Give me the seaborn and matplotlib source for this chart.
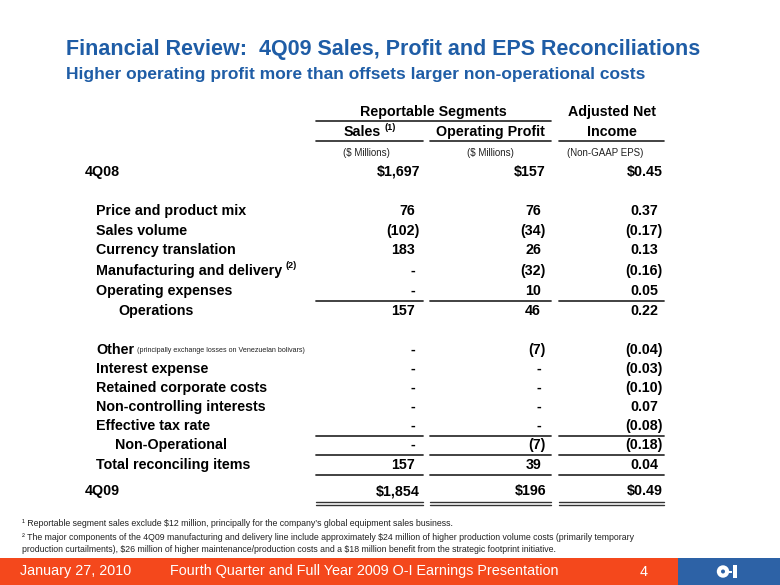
import matplotlib
matplotlib.use("Agg")
import matplotlib.pyplot as plt
from matplotlib.patches import Rectangle, Circle
import seaborn as sns

# ---------------- data ----------------
title = "Financial Review:  4Q09 Sales, Profit and EPS Reconciliations"
subtitle = "Higher operating profit more than offsets larger non-operational costs"

group_header = "Reportable Segments"
eps_header = ["Adjusted Net", "Income"]
col_headers = ["Sales", "Operating Profit", "Income"]
unit_labels = ["($ Millions)", "($ Millions)", "(Non-GAAP EPS)"]

row_labels = ["4Q08", "Price and product mix", "Sales volume", "Currency translation",
              "Manufacturing and delivery", "Operating expenses", "Operations",
              "Other", "Interest expense", "Retained corporate costs",
              "Non-controlling interests", "Effective tax rate", "Non-Operational",
              "Total reconciling items", "4Q09"]
sales = [1697, 76, -102, 183, 0, 0, 157, 0, 0, 0, 0, 0, 0, 157, 1854]
op_profit = [157, 76, -34, 26, -32, 10, 46, -7, 0, 0, 0, 0, -7, 39, 196]
eps = [0.45, 0.37, -0.17, 0.13, -0.16, 0.05, 0.22, -0.04, -0.03, -0.10, 0.07,
       -0.08, -0.18, 0.04, 0.49]
dollar_rows = ["4Q08", "4Q09"]
superscripts = {"Manufacturing and delivery": "(2)"}
other_note = "(principally exchange losses on Venezuelan bolivars)"

footnote1 = "\u00b9 Reportable segment sales exclude $12 million, principally for the company\u2019s global equipment sales business."
footnote2a = "\u00b2 The major components of the 4Q09 manufacturing and delivery line include approximately $24 million of higher production volume costs (primarily temporary"
footnote2b = "production curtailments), $26 million of higher maintenance/production costs and a $18 million benefit from the strategic footprint initiative."
footer_date = "January 27, 2010"
footer_title = "Fourth Quarter and Full Year 2009 O-I Earnings Presentation"
page_no = "4"

# ---------------- layout / style ----------------
BLUE = "#1F5DA6"
ORANGE = "#F4481C"
LOGO_BLUE = "#2D62A6"
row_y = [172, 211, 231, 250, 271, 291, 311, 350, 369, 388, 407, 426, 445, 465, 491]
label_x = {"4Q08": 85, "4Q09": 85, "Operations": 118, "Non-Operational": 115}
col_right = [420, 546, 663]
col_span = [(316, 423), (430, 551), (559, 664)]
paren_pad = 5
FS = 10.3

sns.set_theme(style="white")
plt.rcParams["font.family"] = ["Liberation Sans", "DejaVu Sans"]

fig = plt.figure(figsize=(7.8, 5.85), dpi=100)
ax = fig.add_axes([0, 0, 1, 1])
ax.set_xlim(0, 780)
ax.set_ylim(585, 0)
ax.axis("off")
renderer = fig.canvas.get_renderer()


def txt(x, y, s, **kw):
    kw.setdefault("va", "center")
    kw.setdefault("ha", "left")
    kw.setdefault("color", "black")
    return ax.text(x, y, s, parse_math=False, **kw)


def right_edge(t):
    bb = t.get_window_extent(renderer=renderer)
    return ax.transData.inverted().transform((bb.x1, bb.y0))[0]


def fmt(v, kind, dollar):
    if v == 0:
        return "-", False
    if kind == "eps":
        s = f"{abs(v):.2f}"
    else:
        s = f"{abs(v):,.0f}"
    if dollar:
        s = "$" + s
    if v < 0:
        return "(" + s + ")", True
    return s, dollar


# titles
txt(66, 50, title, fontsize=15.5, fontweight="bold", color=BLUE)
txt(66, 75, subtitle, fontsize=12.5, fontweight="bold", color=BLUE)

# headers
txt((col_span[0][0] + col_span[1][1]) / 2, 112, group_header, fontsize=FS,
    fontweight="bold", ha="center")
ax.plot([col_span[0][0], col_span[1][1]], [121, 121], color="#222222", lw=1.2)
txt((col_span[2][0] + col_span[2][1]) / 2, 112, eps_header[0], fontsize=FS,
    fontweight="bold", ha="center")
for i, (a, b) in enumerate(col_span):
    cx = (a + b) / 2
    t = txt(cx - (7 if i == 0 else 0), 132, col_headers[i], fontsize=FS,
            fontweight="bold", ha="center")
    if i == 0:
        xe = right_edge(t)
        txt(xe + 3, 127, "(1)", fontsize=6.5, fontweight="bold")
    ax.plot([a, b], [141, 141], color="#222222", lw=1.2)
    txt(cx - (3 if i == 0 else 0) + (-6 if i == 2 else 0), 153, unit_labels[i],
        fontsize=7, ha="center", color="#222222")

# rows
for lab, y, s, o, e in zip(row_labels, row_y, sales, op_profit, eps):
    x0 = label_x.get(lab, 96)
    t = txt(x0, y, lab, fontsize=FS, fontweight="bold")
    if lab in superscripts:
        xe = right_edge(t)
        txt(xe + 3, y - 5, superscripts[lab], fontsize=6.5, fontweight="bold")
    if lab == "Other":
        xe = right_edge(t)
        txt(xe + 3, y + 1, other_note, fontsize=5.1, color="#222222")
    dollar = lab in dollar_rows
    for j, (v, kind) in enumerate([(s, "int"), (o, "int"), (e, "eps")]):
        label, flush = fmt(v, kind, dollar)
        xr = col_right[j] if flush else col_right[j] - paren_pad
        txt(xr, y, label, fontsize=FS, fontweight="bold", ha="right")

# rules under rows
single_rules = {"Operating expenses": 300.5, "Effective tax rate": 435.5,
                "Non-Operational": 455, "Total reconciling items": 475}
for lab, yy in single_rules.items():
    for a, b in col_span:
        ax.plot([a, b], [yy, yy], color="#333333", lw=1.3)
for yy in (501.5, 504.5):
    for a, b in col_span:
        ax.plot([a, b], [yy, yy], color="#333333", lw=1.0)

# footnotes
txt(22, 523, footnote1, fontsize=6.3, color="#222222")
txt(22, 537, footnote2a, fontsize=6.3, color="#222222")
txt(22, 549, footnote2b, fontsize=6.3, color="#222222")

# footer band
ax.add_patch(Rectangle((0, 558), 678, 27, color=ORANGE, lw=0))
ax.add_patch(Rectangle((678, 558), 102, 27, color=LOGO_BLUE, lw=0))
txt(20, 571.5, footer_date, fontsize=10.4, color="white")
txt(170, 571.5, footer_title, fontsize=10.4, color="white")
txt(640, 571.5, page_no, fontsize=10.4, color="white")
# logo
ax.add_patch(Circle((723, 571.5), 6.2, color="white", lw=0))
ax.add_patch(Circle((723, 571.5), 2.0, color=LOGO_BLUE, lw=0))
ax.add_patch(Rectangle((728, 570.5), 4, 2.5, color="white", lw=0))
ax.add_patch(Rectangle((733, 565), 4, 13, color="white", lw=0))

fig.savefig("out.png", dpi=100, facecolor="white")
